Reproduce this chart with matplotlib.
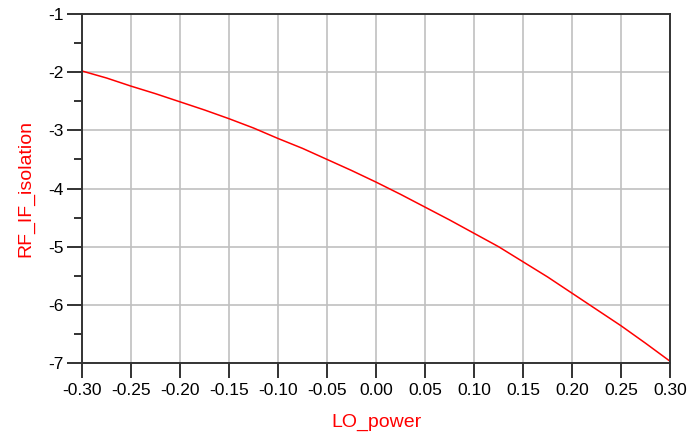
import numpy as np
import matplotlib.pyplot as plt

# LO power sweep and RF->IF isolation
lo_power = [-0.30, -0.275, -0.25, -0.225, -0.20, -0.175, -0.15, -0.125, -0.10,
            -0.075, -0.05, -0.025, 0.00, 0.025, 0.05, 0.075, 0.10, 0.125,
            0.15, 0.175, 0.20, 0.225, 0.25, 0.275, 0.30]
rf_if_isolation = [-1.98, -2.10, -2.24, -2.37, -2.51, -2.65, -2.80, -2.96, -3.14,
                   -3.31, -3.50, -3.69, -3.89, -4.10, -4.32, -4.54, -4.77, -5.00,
                   -5.26, -5.52, -5.80, -6.08, -6.36, -6.66, -6.97]

xticks = [-0.30, -0.25, -0.20, -0.15, -0.10, -0.05, 0.00, 0.05, 0.10, 0.15, 0.20, 0.25, 0.30]
xtick_labels = ['-0.30', '-0.25', '-0.20', '-0.15', '-0.10', '-0.05', '0.00',
                '0.05', '0.10', '0.15', '0.20', '0.25', '0.30']
yticks = [-7, -6, -5, -4, -3, -2, -1]

plt.rcParams['font.family'] = ['Liberation Sans', 'DejaVu Sans']
plt.rcParams['axes.unicode_minus'] = False

fig = plt.figure(figsize=(6.91, 4.42), dpi=100)
ax = fig.add_axes([0.1187, 0.1787, 0.851, 0.7896])

ax.plot(lo_power, rf_if_isolation, color='#ff0000', lw=1.1)

ax.set_xlim(-0.30, 0.30)
ax.set_ylim(-7, -1)
ax.set_xticks(xticks)
ax.set_xticklabels(xtick_labels)
ax.set_yticks(yticks)
ax.set_yticklabels([str(v) for v in yticks])
ax.set_yticks(np.arange(-6.5, -1, 1.0), minor=True)

ax.grid(True, which='major', color='#c0c0c0', lw=1.2)
ax.set_axisbelow(True)

ax.tick_params(axis='both', which='major', direction='out', length=10.5,
               width=1.3, labelsize=12.5, color='#222222')
ax.tick_params(axis='x', pad=4)
ax.tick_params(axis='y', pad=3)
ax.tick_params(axis='y', which='minor', direction='out', length=5.5, width=1.3,
               color='#222222')

for side in ['left', 'bottom', 'top', 'right']:
    ax.spines[side].set_color('#333333')
    ax.spines[side].set_linewidth(1.4)

ax.set_xlabel('LO_power', color='#ff0000', fontsize=14, labelpad=11)
ax.set_ylabel('RF_IF_isolation', color='#ff0000', fontsize=14, labelpad=10)

fig.savefig('out.png', dpi=100)
